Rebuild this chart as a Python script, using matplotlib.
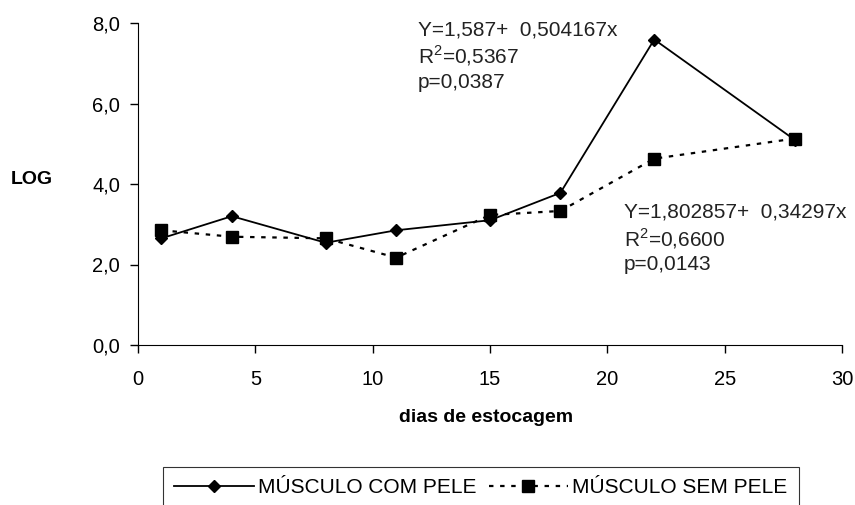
import matplotlib
matplotlib.use("Agg")
import matplotlib.pyplot as plt

# dias de estocagem e valores de LOG
dias = [1, 4, 8, 11, 15, 18, 22, 28]
com_pele = [2.65, 3.20, 2.54, 2.85, 3.10, 3.78, 7.59, 5.09]
sem_pele = [2.85, 2.69, 2.65, 2.17, 3.23, 3.33, 4.63, 5.13]

y_ticks = [0, 2, 4, 6, 8]
y_labels = ["0,0", "2,0", "4,0", "6,0", "8,0"]
x_ticks = [0, 5, 10, 15, 20, 25, 30]

eq_com = ["Y=1,587+  0,504167x", "R$^{2}$=0,5367", "p=0,0387"]
eq_sem = ["Y=1,802857+  0,34297x", "R$^{2}$=0,6600", "p=0,0143"]

plt.rcParams['font.family'] = ['Liberation Sans', 'DejaVu Sans']
plt.rcParams['mathtext.fontset'] = 'custom'
plt.rcParams['mathtext.rm'] = 'Liberation Sans'

W, H = 855, 505
fig = plt.figure(figsize=(W / 100, H / 100), dpi=100)
ax = fig.add_axes([138 / W, 1 - 345 / H, (842 - 138) / W, (345 - 23) / H])

ax.plot(dias, com_pele, color='black', lw=1.3, marker='D', markersize=6.5,
        label='MÚSCULO COM PELE')
ax.plot(dias, sem_pele, color='black', lw=1.6, linestyle=(0, (2, 3)), marker='s',
        markersize=8, label='MÚSCULO SEM PELE')

ax.set_xlim(0, 30)
ax.set_ylim(0, 8)
ax.set_xticks(x_ticks)
ax.set_yticks(y_ticks)
ax.set_yticklabels(y_labels)
ax.tick_params(labelsize=14.5, direction='out', length=6, width=1)
ax.tick_params(axis='x', pad=12)
ax.tick_params(axis='y', pad=7)
ax.spines['top'].set_visible(False)
ax.spines['right'].set_visible(False)

fig.text(32 / W, 1 - 179 / H, "LOG", fontsize=14, fontweight='bold',
         ha='center', va='center')
fig.text(486 / W, 1 - 417 / H, "dias de estocagem", fontsize=14, fontweight='bold',
         ha='center', va='center')

for i, s in enumerate(eq_com):
    fig.text(418 / W, 1 - (30 + i * 26) / H, s, fontsize=15, color='#222222',
             ha='left', va='center')
for i, s in enumerate(eq_sem):
    fig.text(624 / W, 1 - (212 + i * 26.5) / H, s, fontsize=15, color='#222222',
             ha='left', va='center')

# legend box runs off the bottom edge like in the original
leg = fig.legend(loc='upper left', bbox_to_anchor=(163 / W, 1 - 467 / H), ncol=2,
                 fontsize=15, frameon=True, fancybox=False, edgecolor='black',
                 handlelength=3.8, columnspacing=0.6, handletextpad=0.2,
                 borderpad=0.55, borderaxespad=0)
leg.get_frame().set_linewidth(0.8)

fig.savefig("out.png", dpi=100)
